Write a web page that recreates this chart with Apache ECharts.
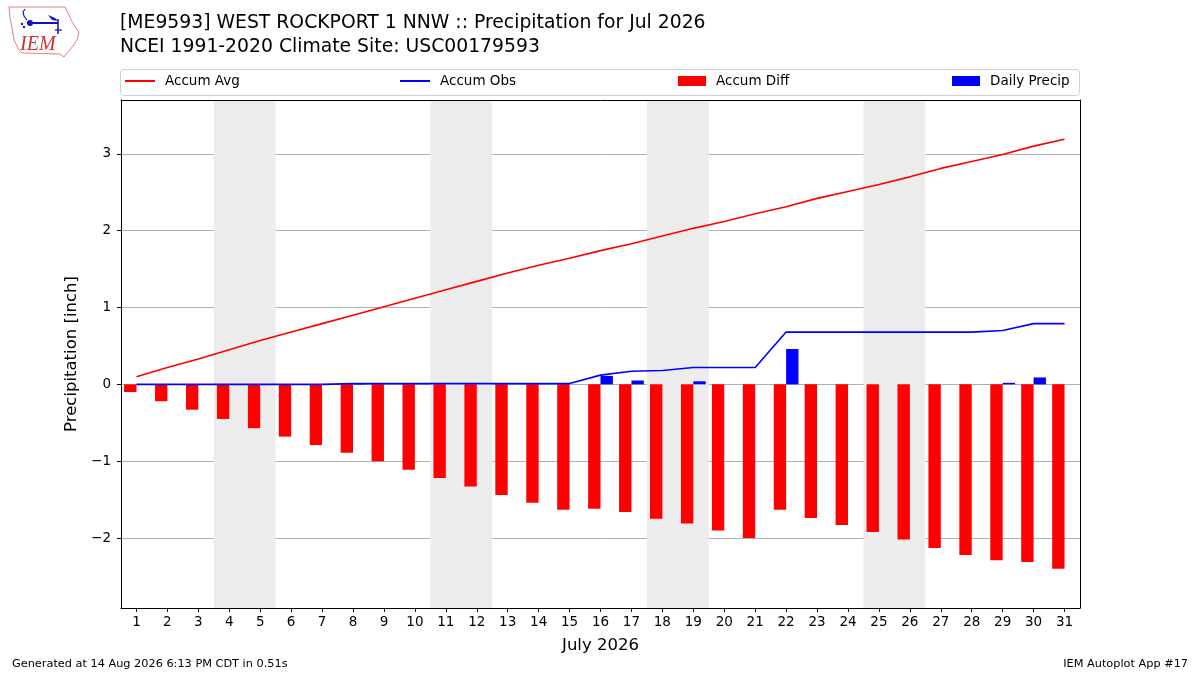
<!DOCTYPE html>
<html>
<head>
<meta charset="utf-8">
<script src="https://cdn.jsdelivr.net/npm/echarts@6/dist/echarts.min.js"></script>
<style>
html,body{margin:0;padding:0;background:#fff;}
#chart{width:1200px;height:675px;}
</style>
</head>
<body>
<div id="chart"></div>
<script>
// ---- data ----
const days = ['1','2','3','4','5','6','7','8','9','10','11','12','13','14','15','16','17','18','19','20','21','22','23','24','25','26','27','28','29','30','31'];
const accumAvg = [0.10,0.22,0.33,0.45,0.57,0.68,0.79,0.90,1.01,1.12,1.23,1.34,1.45,1.55,1.64,1.74,1.83,1.93,2.03,2.12,2.22,2.31,2.42,2.51,2.60,2.70,2.81,2.90,2.99,3.10,3.19];
const accumObs = [0.00,0.00,0.00,0.00,0.00,0.00,0.00,0.01,0.01,0.01,0.01,0.01,0.01,0.01,0.01,0.12,0.17,0.18,0.22,0.22,0.22,0.68,0.68,0.68,0.68,0.68,0.68,0.68,0.70,0.79,0.79];
const accumDiff = [-0.10,-0.22,-0.33,-0.45,-0.57,-0.68,-0.79,-0.89,-1.00,-1.11,-1.22,-1.33,-1.44,-1.54,-1.63,-1.62,-1.66,-1.75,-1.81,-1.90,-2.00,-1.63,-1.74,-1.83,-1.92,-2.02,-2.13,-2.22,-2.29,-2.31,-2.40];
const dailyPrecip = [0,0,0,0,0,0,0,0.01,0,0,0,0,0,0,0,0.11,0.05,0,0.04,0,0,0.46,0,0,0,0,0,0,0.02,0.09,0];
const weekendStarts = [4, 11, 18, 25]; // Saturday of each weekend
const yTicks = [-2,-1,0,1,2,3];

const FONT = 'DejaVu Sans';
const yMin = -2.91, yMax = 3.70;

const chart = echarts.init(document.getElementById('chart'));

const weekendData = weekendStarts.map(d => [d - 0.5, d + 1.5]);

const legendBase = {
  top: 74, padding: 0,
  textStyle: {fontFamily: FONT, fontSize: 13.5, color: '#000', padding: [0,0,0,5]},
  selectedMode: false
};

const option = {
  animation: false,
  backgroundColor: '#fff',
  textStyle: {fontFamily: FONT},
  title: [
    {text: '[ME9593] WEST ROCKPORT 1 NNW :: Precipitation for Jul 2026', left: 120, top: 14, padding: 0,
     textStyle: {fontFamily: FONT, fontSize: 18.8, fontWeight: 'normal', color: '#000'}},
    {text: 'NCEI 1991-2020 Climate Site: USC00179593', left: 120, top: 38, padding: 0,
     textStyle: {fontFamily: FONT, fontSize: 18.8, fontWeight: 'normal', color: '#000'}},
    {text: 'Generated at 14 Aug 2026 6:13 PM CDT in 0.51s', left: 12, top: 659, padding: 0,
     textStyle: {fontFamily: FONT, fontSize: 11.3, fontWeight: 'normal', color: '#000'}},
    {text: 'IEM Autoplot App #17', right: 12, top: 659, padding: 0,
     textStyle: {fontFamily: FONT, fontSize: 11.3, fontWeight: 'normal', color: '#000'}}
  ],
  legend: [
    Object.assign({}, legendBase, {left: 125, data: [{name: 'Accum Avg', icon: 'rect'}], itemWidth: 30, itemHeight: 2}),
    Object.assign({}, legendBase, {left: 400, data: [{name: 'Accum Obs', icon: 'rect'}], itemWidth: 30, itemHeight: 2}),
    Object.assign({}, legendBase, {left: 678, data: [{name: 'Accum Diff', icon: 'rect'}], itemWidth: 28, itemHeight: 10}),
    Object.assign({}, legendBase, {left: 952, data: [{name: 'Daily Precip', icon: 'rect'}], itemWidth: 28, itemHeight: 10})
  ],
  graphic: [
    {type: 'rect', z: -10, shape: {x: 120.5, y: 69.5, width: 959, height: 26, r: 3},
     style: {fill: '#fff', stroke: '#d0d0d0', lineWidth: 1}},
    // IEM logo (decoration)
    {type: 'group', children: [
      {type: 'polygon', shape: {points: [[9,7],[65,7],[68,13],[72,22],[76,28],[79,32],[77,40],[73,46],[68,52],[64,57],[60,54],[22,53],[19,50],[14,40],[12,28],[10,18]]},
       style: {fill: '#fff', stroke: '#e88080', lineWidth: 1}},
      {type: 'line', shape: {x1: 27, y1: 23, x2: 58, y2: 23}, style: {stroke: '#1010c0', lineWidth: 2}},
      {type: 'circle', shape: {cx: 30, cy: 23, r: 3}, style: {fill: '#1010c0'}},
      {type: 'polyline', shape: {points: [[27,20],[24,16],[23,12],[25,9]]}, style: {stroke: '#1010c0', lineWidth: 1.2, fill: null}},
      {type: 'polygon', shape: {points: [[48,15],[55,18],[58,21],[52,20]]}, style: {fill: '#1010c0'}},
      {type: 'line', shape: {x1: 58, y1: 19, x2: 58, y2: 34}, style: {stroke: '#1010c0', lineWidth: 1.5}},
      {type: 'line', shape: {x1: 55, y1: 30, x2: 62, y2: 30}, style: {stroke: '#1010c0', lineWidth: 1.2}},
      {type: 'circle', shape: {cx: 24, cy: 27, r: 1.2}, style: {fill: '#1010c0'}},
      {type: 'circle', shape: {cx: 22, cy: 24, r: 1.2}, style: {fill: '#1010c0'}},
      {type: 'text', style: {text: 'IEM', x: 20, y: 35, fontFamily: 'Liberation Serif', fontStyle: 'italic', fontSize: 20, fill: '#d03030'}}
    ]}
  ],
  grid: {left: 121, right: 120, top: 100, bottom: 67, containLabel: false},
  xAxis: [
    {type: 'category', data: days, boundaryGap: true, position: 'bottom', z: 10,
     axisLine: {show: true, onZero: false, lineStyle: {color: '#000', width: 1}},
     axisTick: {show: true, alignWithLabel: true, length: 4, lineStyle: {color: '#000'}},
     axisLabel: {interval: 0, margin: 7, fontFamily: FONT, fontSize: 13.5, color: '#000'},
     splitLine: {show: false},
     name: 'July 2026', nameLocation: 'middle', nameGap: 29,
     nameTextStyle: {fontFamily: FONT, fontSize: 16.5, color: '#000'}},
    {type: 'value', min: 0.5, max: 31.5, position: 'top', z: 10,
     axisLine: {show: true, onZero: false, lineStyle: {color: '#000', width: 1}},
     axisTick: {show: false}, axisLabel: {show: false}, splitLine: {show: false}}
  ],
  yAxis: [
    {type: 'value', min: yMin, max: yMax, position: 'left', z: 10,
     axisLine: {show: true, onZero: false, lineStyle: {color: '#000', width: 1}},
     axisTick: {show: true, length: 4, customValues: yTicks, lineStyle: {color: '#000'}},
     axisLabel: {customValues: yTicks, margin: 10, fontFamily: FONT, fontSize: 13.5, color: '#000',
       formatter: v => (v < 0 ? '\u2212' + Math.abs(v) : String(v))},
     splitLine: {show: false},
     name: 'Precipitation [inch]', nameLocation: 'middle', nameGap: 37,
     nameTextStyle: {fontFamily: FONT, fontSize: 16.5, color: '#000'}},
    {type: 'value', min: yMin, max: yMax, position: 'right', z: 10,
     axisLine: {show: true, onZero: false, lineStyle: {color: '#000', width: 1}},
     axisTick: {show: false}, axisLabel: {show: false}, splitLine: {show: false}}
  ],
  series: [
    {type: 'custom', name: 'weekend', xAxisIndex: 1, yAxisIndex: 0, z: 1, silent: true,
     data: weekendData,
     renderItem: function (params, api) {
       const p0 = api.coord([api.value(0), yMax]);
       const p1 = api.coord([api.value(1), yMin]);
       return {type: 'rect', shape: {x: p0[0], y: p0[1], width: p1[0] - p0[0], height: p1[1] - p0[1]},
               style: {fill: '#ececec'}};
     },
     encode: {x: [0, 1]},
     markLine: {silent: true, z: 1, symbol: 'none', label: {show: false},
       lineStyle: {color: '#b0b0b0', width: 1, type: 'solid'},
       emphasis: {disabled: true},
       data: yTicks.map(v => ({yAxis: v}))}},
    {type: 'bar', name: 'Accum Diff', xAxisIndex: 0, yAxisIndex: 0, data: accumDiff,
     barWidth: '40%', barGap: '0%', itemStyle: {color: '#ff0000'}, z: 3},
    {type: 'bar', name: 'Daily Precip', xAxisIndex: 0, yAxisIndex: 0, data: dailyPrecip,
     barWidth: '40%', barGap: '0%', itemStyle: {color: '#0000ff'}, z: 3},
    {type: 'line', name: 'Accum Avg', xAxisIndex: 0, yAxisIndex: 0, data: accumAvg,
     symbol: 'none', lineStyle: {color: '#ff0000', width: 1.6}, itemStyle: {color: '#ff0000'}, z: 6},
    {type: 'line', name: 'Accum Obs', xAxisIndex: 0, yAxisIndex: 0, data: accumObs,
     symbol: 'none', lineStyle: {color: '#0000ff', width: 1.6}, itemStyle: {color: '#0000ff'}, z: 6}
  ]
};
chart.setOption(option);
</script>
</body>
</html>
